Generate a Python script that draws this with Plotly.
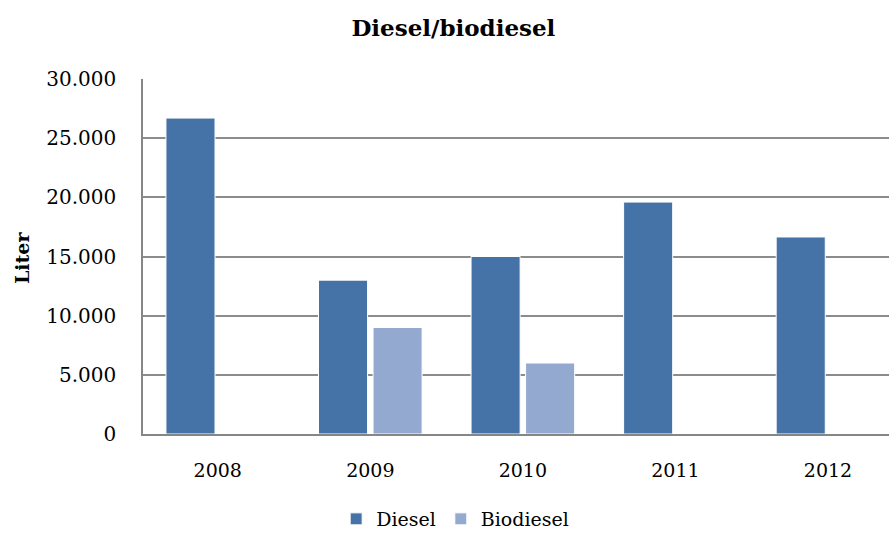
import plotly.graph_objects as go

years = ["2008", "2009", "2010", "2011", "2012"]
diesel = [26700, 13000, 15000, 19600, 16650]
biodiesel = [None, 9000, 6000, None, None]

FONT = "DejaVu Serif"

fig = go.Figure()
fig.add_trace(go.Bar(x=years, y=diesel, name="Diesel",
                     marker=dict(color="#4572A7", line=dict(color="white", width=1))))
fig.add_trace(go.Bar(x=years, y=biodiesel, name="Biodiesel",
                     marker=dict(color="#94A9D0", line=dict(color="white", width=1))))

fig.update_layout(
    width=889, height=533,
    margin=dict(l=143, r=0, t=79, b=99),
    paper_bgcolor="white", plot_bgcolor="white",
    separators=",.",
    barmode="group", bargap=0.285, bargroupgap=0.1,
    font=dict(family=FONT, color="black", size=19),
    title=dict(text="<b>Diesel/biodiesel</b>", x=0.51, xref="container", xanchor="center",
               y=1 - 28 / 533, yref="container", yanchor="middle",
               font=dict(family=FONT, size=23, color="black")),
    legend=dict(orientation="h", x=0.512, xref="container", xanchor="center",
                y=1 - 519 / 533, yref="container", yanchor="middle",
                font=dict(family=FONT, size=19), itemwidth=30, traceorder="normal"),
    xaxis=dict(type="category", range=[-0.49, 4.4], showgrid=False,
               showline=True, linecolor="#868686", linewidth=1.5,
               ticks="", ticklabelstandoff=18, tickfont=dict(size=19)),
    yaxis=dict(range=[0, 30000], dtick=5000, tickformat=",d",
               showgrid=True, gridcolor="#8C8C8C", gridwidth=1.6,
               showline=True, linecolor="#868686", linewidth=1.5,
               zeroline=False, ticks="", ticklabelstandoff=21,
               tickfont=dict(size=20)),
    annotations=[dict(text="<b>Liter</b>", textangle=-90, x=(22 - 143) / 746, xref="paper",
                      y=(434 - 258) / 355, yref="paper", showarrow=False,
                      xanchor="center", yanchor="middle",
                      font=dict(family=FONT, size=19, color="black"))],
)

fig.write_html("out.html")
